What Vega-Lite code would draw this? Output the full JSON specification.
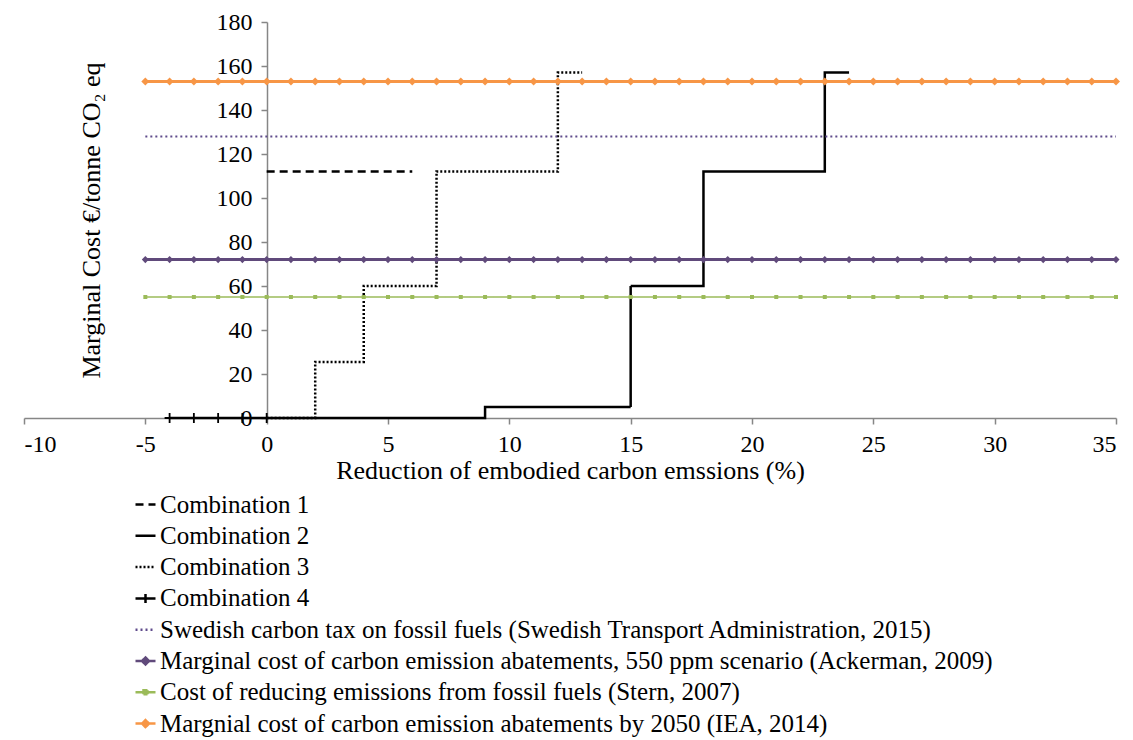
{
  "$schema": "https://vega.github.io/schema/vega-lite/v6.json",
  "width": 1092,
  "height": 396,
  "autosize": "none",
  "padding": {"left": 24, "top": 22, "right": 17, "bottom": 322},
  "background": "white",
  "config": {
    "font": "Liberation Serif",
    "view": {"stroke": null},
    "axis": {"labelFont": "Liberation Serif", "titleFont": "Liberation Serif", "labelColor": "black", "titleColor": "black", "labelFontSize": 24, "titleFontSize": 26, "titleFontWeight": "normal", "domainColor": "#868686", "tickColor": "#868686", "domainWidth": 1.5, "tickWidth": 1.5, "tickSize": 6, "grid": false},
    "legend": {"labelFont": "Liberation Serif", "labelFontSize": 25, "labelColor": "black", "labelLimit": 0}
  },
  "data": {"values": [
    {"s":"c1","x":0,"y":112},{"s":"c1","x":6,"y":112},
    {"s":"c2","x":0,"y":0},{"s":"c2","x":9,"y":5},{"s":"c2","x":15,"y":60},{"s":"c2","x":18,"y":112},{"s":"c2","x":23,"y":157},{"s":"c2","x":24,"y":157},
    {"s":"c3","x":0,"y":0},{"s":"c3","x":2,"y":25.5},{"s":"c3","x":4,"y":60},{"s":"c3","x":7,"y":112},{"s":"c3","x":12,"y":157},{"s":"c3","x":13,"y":157},
    {"s":"c4","x":-4,"y":0},{"s":"c4","x":-3,"y":0},{"s":"c4","x":-2,"y":0},{"s":"c4","x":-1,"y":0},{"s":"c4","x":0,"y":0},
    {"s":"swe","x":-5,"y":128},{"s":"swe","x":35,"y":128},
    {"s":"ack","x":-5,"y":72},{"s":"ack","x":-4,"y":72},{"s":"ack","x":-3,"y":72},{"s":"ack","x":-2,"y":72},{"s":"ack","x":-1,"y":72},{"s":"ack","x":0,"y":72},{"s":"ack","x":1,"y":72},{"s":"ack","x":2,"y":72},{"s":"ack","x":3,"y":72},{"s":"ack","x":4,"y":72},{"s":"ack","x":5,"y":72},{"s":"ack","x":6,"y":72},{"s":"ack","x":7,"y":72},{"s":"ack","x":8,"y":72},{"s":"ack","x":9,"y":72},{"s":"ack","x":10,"y":72},{"s":"ack","x":11,"y":72},{"s":"ack","x":12,"y":72},{"s":"ack","x":13,"y":72},{"s":"ack","x":14,"y":72},{"s":"ack","x":15,"y":72},{"s":"ack","x":16,"y":72},{"s":"ack","x":17,"y":72},{"s":"ack","x":18,"y":72},{"s":"ack","x":19,"y":72},{"s":"ack","x":20,"y":72},{"s":"ack","x":21,"y":72},{"s":"ack","x":22,"y":72},{"s":"ack","x":23,"y":72},{"s":"ack","x":24,"y":72},{"s":"ack","x":25,"y":72},{"s":"ack","x":26,"y":72},{"s":"ack","x":27,"y":72},{"s":"ack","x":28,"y":72},{"s":"ack","x":29,"y":72},{"s":"ack","x":30,"y":72},{"s":"ack","x":31,"y":72},{"s":"ack","x":32,"y":72},{"s":"ack","x":33,"y":72},{"s":"ack","x":34,"y":72},{"s":"ack","x":35,"y":72},
    {"s":"stern","x":-5,"y":55},{"s":"stern","x":-4,"y":55},{"s":"stern","x":-3,"y":55},{"s":"stern","x":-2,"y":55},{"s":"stern","x":-1,"y":55},{"s":"stern","x":0,"y":55},{"s":"stern","x":1,"y":55},{"s":"stern","x":2,"y":55},{"s":"stern","x":3,"y":55},{"s":"stern","x":4,"y":55},{"s":"stern","x":5,"y":55},{"s":"stern","x":6,"y":55},{"s":"stern","x":7,"y":55},{"s":"stern","x":8,"y":55},{"s":"stern","x":9,"y":55},{"s":"stern","x":10,"y":55},{"s":"stern","x":11,"y":55},{"s":"stern","x":12,"y":55},{"s":"stern","x":13,"y":55},{"s":"stern","x":14,"y":55},{"s":"stern","x":15,"y":55},{"s":"stern","x":16,"y":55},{"s":"stern","x":17,"y":55},{"s":"stern","x":18,"y":55},{"s":"stern","x":19,"y":55},{"s":"stern","x":20,"y":55},{"s":"stern","x":21,"y":55},{"s":"stern","x":22,"y":55},{"s":"stern","x":23,"y":55},{"s":"stern","x":24,"y":55},{"s":"stern","x":25,"y":55},{"s":"stern","x":26,"y":55},{"s":"stern","x":27,"y":55},{"s":"stern","x":28,"y":55},{"s":"stern","x":29,"y":55},{"s":"stern","x":30,"y":55},{"s":"stern","x":31,"y":55},{"s":"stern","x":32,"y":55},{"s":"stern","x":33,"y":55},{"s":"stern","x":34,"y":55},{"s":"stern","x":35,"y":55},
    {"s":"iea","x":-5,"y":153},{"s":"iea","x":-4,"y":153},{"s":"iea","x":-3,"y":153},{"s":"iea","x":-2,"y":153},{"s":"iea","x":-1,"y":153},{"s":"iea","x":0,"y":153},{"s":"iea","x":1,"y":153},{"s":"iea","x":2,"y":153},{"s":"iea","x":3,"y":153},{"s":"iea","x":4,"y":153},{"s":"iea","x":5,"y":153},{"s":"iea","x":6,"y":153},{"s":"iea","x":7,"y":153},{"s":"iea","x":8,"y":153},{"s":"iea","x":9,"y":153},{"s":"iea","x":10,"y":153},{"s":"iea","x":11,"y":153},{"s":"iea","x":12,"y":153},{"s":"iea","x":13,"y":153},{"s":"iea","x":14,"y":153},{"s":"iea","x":15,"y":153},{"s":"iea","x":16,"y":153},{"s":"iea","x":17,"y":153},{"s":"iea","x":18,"y":153},{"s":"iea","x":19,"y":153},{"s":"iea","x":20,"y":153},{"s":"iea","x":21,"y":153},{"s":"iea","x":22,"y":153},{"s":"iea","x":23,"y":153},{"s":"iea","x":24,"y":153},{"s":"iea","x":25,"y":153},{"s":"iea","x":26,"y":153},{"s":"iea","x":27,"y":153},{"s":"iea","x":28,"y":153},{"s":"iea","x":29,"y":153},{"s":"iea","x":30,"y":153},{"s":"iea","x":31,"y":153},{"s":"iea","x":32,"y":153},{"s":"iea","x":33,"y":153},{"s":"iea","x":34,"y":153},{"s":"iea","x":35,"y":153}
  ]},
  "encoding": {
    "x": {"field": "x", "type": "quantitative", "scale": {"domain": [-10, 35], "nice": false, "zero": false},
      "axis": {"values": [-10, -5, 0, 5, 10, 15, 20, 25, 30, 35], "labelExpr": "datum.value < 0 ? '-' + abs(datum.value) : '' + datum.value", "title": "Reduction of embodied carbon emssions (%)", "labelPadding": 8, "titlePadding": 1}},
    "y": {"field": "y", "type": "quantitative", "scale": {"domain": [0, 180], "nice": false},
      "axis": {"values": [0, 20, 40, 60, 80, 100, 120, 140, 160, 180], "offset": -243, "title": "Marginal Cost €/tonne CO₂ eq", "labelPadding": 9, "titlePadding": 112}}
  },
  "layer": [
    {
      "transform": [{"filter": "indexof(['c1','c2','c3','c4'], datum.s) >= 0"}],
      "mark": {"type": "line", "interpolate": "step-after", "strokeWidth": 2.5},
      "encoding": {
        "color": {"field": "s", "type": "nominal",
          "scale": {"domain": ["c1","c2","c3","c4","swe","ack","stern","iea"], "range": ["black","black","black","black","#5F4B8B","#604A7B","#9BBB59","#F79646"]},
          "legend": {"title": null, "orient": "none", "legendX": 109, "legendY": 470, "direction": "vertical", "symbolType": "stroke", "symbolSize": 400, "symbolStrokeWidth": 2.5, "rowPadding": 5.3, "labelOffset": 2,
            "encode": {"symbols": {"update": {
              "shape": {"signal": "datum.value == 'c4' ? 'M-1,0H1M0,-0.45V0.45' : (datum.value == 'ack' || datum.value == 'iea') ? 'M-1,0H1M0,-0.35L0.35,0L0,0.35L-0.35,0Z' : datum.value == 'stern' ? 'M-1,0H1M-0.2,-0.2H0.2V0.2H-0.2Z' : 'stroke'"},
              "fill": {"signal": "datum.value == 'ack' ? '#604A7B' : datum.value == 'iea' ? '#F79646' : datum.value == 'stern' ? '#9BBB59' : 'transparent'"}
            }}},
            "labelExpr": "datum.value == 'c1' ? 'Combination 1' : datum.value == 'c2' ? 'Combination 2' : datum.value == 'c3' ? 'Combination 3' : datum.value == 'c4' ? 'Combination 4' : datum.value == 'swe' ? 'Swedish carbon tax on fossil fuels (Swedish Transport Administration, 2015)' : datum.value == 'ack' ? 'Marginal cost of carbon emission abatements, 550 ppm scenario (Ackerman, 2009)' : datum.value == 'stern' ? 'Cost of reducing emissions from fossil fuels (Stern, 2007)' : 'Margnial cost of carbon emission abatements by 2050 (IEA, 2014)'"}},
        "strokeDash": {"field": "s", "type": "nominal",
          "scale": {"domain": ["c1","c2","c3","c4","swe","ack","stern","iea"], "range": [[8,5],[1,0],[2,2],[1,0],[2,3],[1,0],[1,0],[1,0]]},
          "legend": {"title": null}}
      }
    },
    {
      "transform": [{"filter": "datum.s == 'swe'"}],
      "mark": {"type": "line", "strokeWidth": 2},
      "encoding": {"color": {"field": "s", "type": "nominal"}, "strokeDash": {"field": "s", "type": "nominal"}}
    },
    {
      "transform": [{"filter": "datum.s == 'stern'"}],
      "mark": {"type": "line", "strokeWidth": 1.5},
      "encoding": {"color": {"field": "s", "type": "nominal"}, "strokeDash": {"field": "s", "type": "nominal"}}
    },
    {
      "transform": [{"filter": "datum.s == 'ack' || datum.s == 'iea'"}],
      "mark": {"type": "line", "strokeWidth": 3},
      "encoding": {"color": {"field": "s", "type": "nominal"}, "strokeDash": {"field": "s", "type": "nominal"}}
    },
    {
      "transform": [{"filter": "datum.s == 'c4'"}],
      "mark": {"type": "point", "shape": "M-1,0H1M0,-1V1", "size": 100, "filled": false, "stroke": "black", "strokeWidth": 1.8, "opacity": 1},
      "encoding": {}
    },
    {
      "transform": [{"filter": "datum.s == 'stern'"}],
      "mark": {"type": "point", "shape": "square", "size": 16, "filled": true, "color": "#9BBB59", "opacity": 1},
      "encoding": {}
    },
    {
      "transform": [{"filter": "datum.s == 'ack'"}],
      "mark": {"type": "point", "shape": "diamond", "size": 50, "filled": true, "color": "#604A7B", "opacity": 1},
      "encoding": {}
    },
    {
      "transform": [{"filter": "datum.s == 'iea'"}],
      "mark": {"type": "point", "shape": "diamond", "size": 64, "filled": true, "color": "#F79646", "opacity": 1},
      "encoding": {}
    }
  ]
}
